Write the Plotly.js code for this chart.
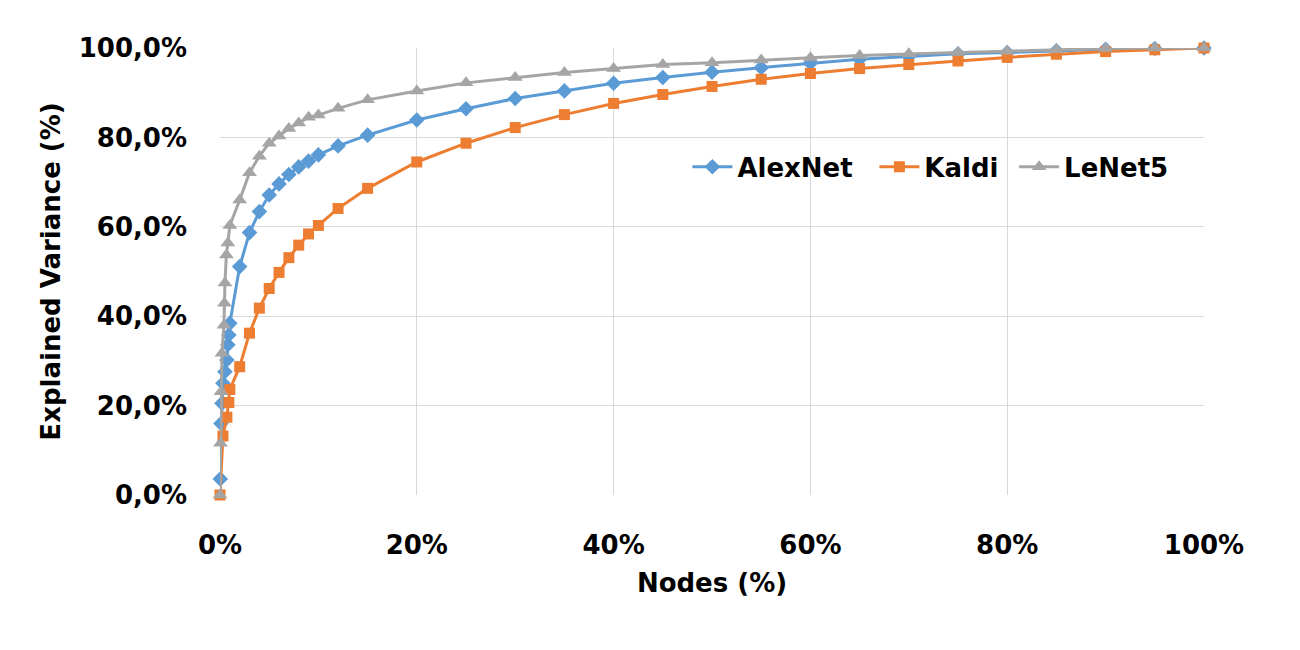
<!DOCTYPE html>
<html>
<head>
<meta charset="utf-8">
<script src="https://cdn.plot.ly/plotly-3.0.1.min.js"></script>
<style>html,body{margin:0;padding:0;background:#fff}#chart{width:1300px;height:650px}</style>
</head>
<body>
<div id="chart"></div>
<script>
// Data (Nodes % vs Explained Variance %)
const alexX = [0.03, 0.1, 0.2, 0.3, 0.5, 0.7, 0.8, 0.9, 1, 2, 3, 4, 5, 6, 7, 8, 9, 10, 12, 15, 20, 25, 30, 35, 40, 45, 50, 55, 60, 65, 70, 75, 80, 85, 90, 95, 100];
const alexY = [3.6, 16, 20.5, 25, 27.6, 30.2, 33.6, 35.8, 38.4, 51.1, 58.7, 63.4, 67.1, 69.6, 71.7, 73.4, 74.7, 76.1, 78.1, 80.5, 83.9, 86.4, 88.7, 90.4, 92.1, 93.4, 94.6, 95.6, 96.6, 97.5, 98.1, 98.7, 99.0, 99.4, 99.7, 99.9, 100];

const kaldiX = [0, 0.3, 0.7, 0.9, 1, 2, 3, 4, 5, 6, 7, 8, 9, 10, 12, 15, 20, 25, 30, 35, 40, 45, 50, 55, 60, 65, 70, 75, 80, 85, 90, 95, 100];
const kaldiY = [0, 13.2, 17.4, 20.7, 23.6, 28.7, 36.2, 41.8, 46.2, 49.8, 53.1, 55.9, 58.4, 60.3, 64.1, 68.6, 74.5, 78.7, 82.2, 85.1, 87.6, 89.6, 91.4, 93.0, 94.3, 95.4, 96.3, 97.1, 97.9, 98.6, 99.2, 99.6, 100];

const lenetX = [0, 0.05, 0.1, 0.2, 0.4, 0.45, 0.5, 0.65, 0.8, 1, 2, 3, 4, 5, 6, 7, 8, 9, 10, 12, 15, 20, 25, 30, 35, 40, 45, 50, 55, 60, 65, 70, 75, 80, 85, 90, 95, 100];
const lenetY = [0, 11.6, 23.1, 31.7, 38, 42.9, 47.4, 53.7, 56.4, 60.3, 66, 72.1, 75.8, 78.7, 80.3, 82, 83.2, 84.5, 85, 86.5, 88.4, 90.4, 92.2, 93.4, 94.5, 95.4, 96.3, 96.7, 97.3, 97.8, 98.3, 98.7, 99.0, 99.3, 99.6, 99.9, 100, 100];

const xTickVals = [0, 20, 40, 60, 80, 100];
const xTickText = ['0%', '20%', '40%', '60%', '80%', '100%'];
const yTickVals = [0, 20, 40, 60, 80, 100];
const yTickText = ['0,0%', '20,0%', '40,0%', '60,0%', '80,0%', '100,0%'];

const FONT = 'DejaVu Sans, sans-serif';
const FS = 26;

function series(name, x, y, color, symbol, size, legendId) {
  return {
    type: 'scatter', mode: 'lines+markers', name: name, x: x, y: y,
    line: {color: color, width: 3},
    marker: {color: color, symbol: symbol, size: size},
    cliponaxis: false, legend: legendId
  };
}

const traces = [
  series('AlexNet', alexX, alexY, '#5b9bd5', 'diamond', 12, 'legend'),
  series('Kaldi', kaldiX, kaldiY, '#ed7d31', 'square', 11, 'legend2'),
  series('LeNet5', lenetX, lenetY, '#a5a5a5', 'triangle-up', 13, 'legend3')
];

function legendAt(x) {
  return {
    orientation: 'h', x: x, y: 0.734, xanchor: 'left', yanchor: 'middle',
    bgcolor: 'rgba(0,0,0,0)', font: {family: FONT, size: FS, color: '#000', weight: 'bold'},
    itemwidth: 40
  };
}

const layout = {
  width: 1300, height: 650,
  paper_bgcolor: '#ffffff', plot_bgcolor: '#ffffff',
  margin: {l: 220, r: 96, t: 48, b: 155},
  font: {family: FONT, color: '#000000'},
  showlegend: true,
  legend: legendAt(0.475),
  legend2: legendAt(0.665),
  legend3: legendAt(0.807),
  xaxis: {
    range: [0, 100], tickvals: xTickVals, ticktext: xTickText,
    showgrid: true, gridcolor: '#d9d9d9', gridwidth: 1.3,
    zeroline: false, showline: false,
    ticks: '', ticklabelstandoff: 32,
    tickfont: {family: FONT, size: FS, color: '#000', weight: 'bold'},
    title: {text: 'Nodes (%)', font: {family: FONT, size: FS, color: '#000', weight: 'bold'}, standoff: 14}
  },
  yaxis: {
    range: [0, 100], tickvals: yTickVals, ticktext: yTickText,
    showgrid: true, gridcolor: '#d9d9d9', gridwidth: 1.3,
    zeroline: false, showline: false,
    ticks: '', ticklabelstandoff: 32,
    tickfont: {family: FONT, size: FS, color: '#000', weight: 'bold'},
    title: {text: 'Explained Variance (%)', font: {family: FONT, size: FS, color: '#000', weight: 'bold'}, standoff: 10}
  }
};

Plotly.newPlot('chart', traces, layout, {displayModeBar: false, staticPlot: true});
</script>
</body>
</html>
